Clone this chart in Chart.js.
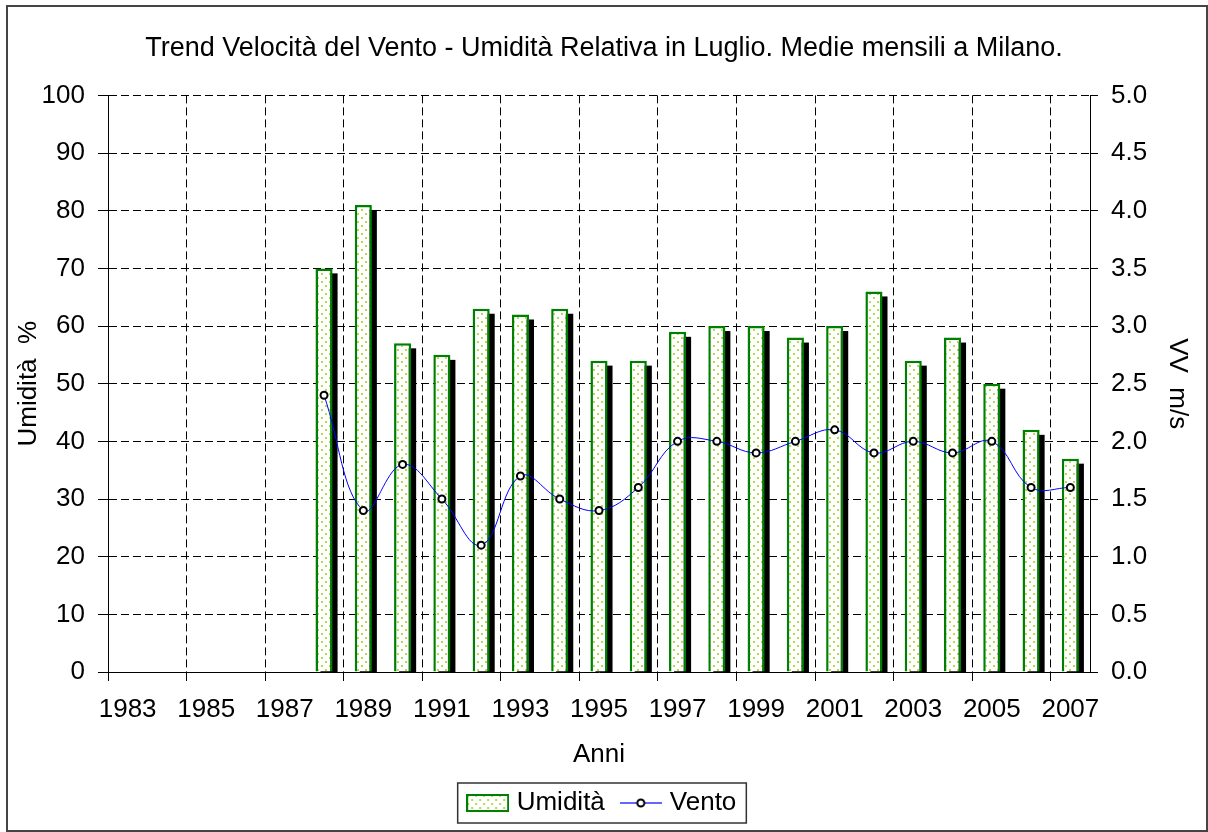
<!DOCTYPE html>
<html>
<head>
<meta charset="utf-8">
<script src="https://cdn.jsdelivr.net/npm/chart.js@4"></script>
<style>
  html, body { margin: 0; padding: 0; background: #fff; }
  #wrap { width: 1208px; height: 832px; position: relative; }
</style>
</head>
<body>
<div id="wrap"><canvas id="chart"></canvas></div>
<script>
const years = ["1983", "1984", "1985", "1986", "1987", "1988", "1989", "1990", "1991", "1992",
  "1993", "1994", "1995", "1996", "1997", "1998", "1999", "2000", "2001", "2002",
  "2003", "2004", "2005", "2006", "2007"];
const umidita = [null, null, null, null, null, 70, 81, 57, 55, 63,
  62, 63, 54, 54, 59, 60, 60, 58, 60, 66,
  54, 58, 50, 42, 37];
const vento = [null, null, null, null, null, 2.4, 1.4, 1.8, 1.5, 1.1,
  1.7, 1.5, 1.4, 1.6, 2.0, 2.0, 1.9, 2.0, 2.1, 1.9,
  2.0, 1.9, 2.0, 1.6, 1.6];

const titleText = "Trend Velocità del Vento - Umidità Relativa in Luglio. Medie mensili a Milano.";
const fontFamily = "'Liberation Sans', Arial, sans-serif";
Chart.defaults.font.family = fontFamily;
Chart.defaults.color = "#000";

const canvas = document.getElementById("chart");

// dotted fill like the excel pattern
function makeDots(ctx) {
  const tile = document.createElement("canvas");
  tile.width = 8;
  tile.height = 8;
  const g = tile.getContext("2d");
  g.fillStyle = "#ffffff";
  g.fillRect(0, 0, 8, 8);
  g.fillStyle = "#b4da4e";
  g.fillRect(1, 1, 2, 2);
  g.fillRect(5, 5, 2, 2);
  return ctx.createPattern(tile, "repeat");
}
const dots = makeDots(canvas.getContext("2d"));

function barIcon() {
  const c = document.createElement("canvas");
  c.width = 43;
  c.height = 18;
  const g = c.getContext("2d");
  g.fillStyle = makeDots(g);
  g.fillRect(0, 0, 43, 18);
  g.strokeStyle = "#008000";
  g.lineWidth = 2;
  g.strokeRect(1, 1, 41, 16);
  return c;
}
function lineIcon() {
  const c = document.createElement("canvas");
  c.width = 42;
  c.height = 14;
  const g = c.getContext("2d");
  g.strokeStyle = "#3333ff";
  g.lineWidth = 1.5;
  g.beginPath();
  g.moveTo(0, 7);
  g.lineTo(42, 7);
  g.stroke();
  g.beginPath();
  g.arc(21, 7, 3.5, 0, Math.PI * 2);
  g.fillStyle = "#fff";
  g.fill();
  g.strokeStyle = "#000";
  g.lineWidth = 2;
  g.stroke();
  return c;
}

const barShadow = {
  id: "barShadow",
  beforeDatasetDraw(chart, args) {
    if (args.meta.type !== "bar") return;
    const ctx = chart.ctx;
    const values = chart.data.datasets[args.index].data;
    const base = chart.scales.y.getPixelForValue(0);
    ctx.save();
    ctx.fillStyle = "#000";
    args.meta.data.forEach((bar, i) => {
      if (values[i] == null) return;
      const { x, y, width } = bar.getProps(["x", "y", "width"], true);
      ctx.fillRect(x - width / 2 + 5, y + 5, width, base - y - 5);
    });
    ctx.restore();
  },
};

const frame = {
  id: "frame",
  afterDraw(chart) {
    const ctx = chart.ctx;
    ctx.save();
    ctx.strokeStyle = "#444";
    ctx.lineWidth = 2;
    ctx.strokeRect(7, 6, 1200, 825);
    const boxes = chart.legend.legendHitBoxes;
    if (boxes && boxes.length) {
      const first = boxes[0];
      const last = boxes[boxes.length - 1];
      const left = first.left - 14;
      const right = last.left + last.width + 10;
      const cy = first.top + first.height / 2;
      ctx.strokeStyle = "#333";
      ctx.lineWidth = 1.5;
      ctx.strokeRect(left, cy - 20, right - left, 40);
    }
    ctx.restore();
  },
};

new Chart(canvas, {
  type: "bar",
  data: {
    labels: years,
    datasets: [
      {
        type: "line",
        label: "Vento",
        data: vento,
        yAxisID: "y1",
        borderColor: "#0000ff",
        borderWidth: 1,
        tension: 0.4,
        pointRadius: 3.5,
        pointBorderWidth: 2,
        pointBackgroundColor: "#fff",
        pointBorderColor: "#000",
        order: 0,
      },
      {
        type: "bar",
        label: "Umidità",
        data: umidita,
        yAxisID: "y",
        backgroundColor: dots,
        borderColor: "#008000",
        borderWidth: 2.5,
        borderSkipped: "bottom",
        categoryPercentage: 1,
        barPercentage: 0.435,
        order: 1,
      },
    ],
  },
  options: {
    responsive: true,
    maintainAspectRatio: false,
    animation: false,
    layout: { padding: { left: 8, right: 8, top: 0, bottom: 6 } },
    scales: {
      x: {
        offset: true,
        grid: {
          offset: true,
          color: (c) => (c.index % 2 === 0 ? "#000" : "rgba(0,0,0,0)"),
          tickLength: 9,
        },
        border: { display: true, color: "#000", dash: [8, 4] },
        ticks: {
          autoSkip: false,
          maxRotation: 0,
          padding: 16,
          font: { size: 26, lineHeight: 1 },
          callback: (v, i) => (i % 2 === 0 ? years[i] : ""),
        },
        title: {
          display: true,
          text: "Anni",
          font: { size: 26, lineHeight: 1 },
          padding: { top: 0, bottom: 2 },
        },
        afterFit: (s) => { s.height = 98; },
      },
      y: {
        position: "left",
        min: 0,
        max: 100,
        ticks: { stepSize: 10, padding: 13, font: { size: 26 } },
        grid: { color: "#000", tickLength: 10 },
        border: { display: true, color: "#000", dash: [8, 4] },
        title: {
          display: true,
          text: "Umidità  %",
          font: { size: 26, lineHeight: 1 },
          padding: { top: 8, bottom: 0 },
        },
        afterFit: (s) => { s.width = 100; },
      },
      y1: {
        position: "right",
        min: 0,
        max: 5,
        ticks: { stepSize: 0.5, padding: 13, font: { size: 26 }, callback: (v) => v.toFixed(1) },
        grid: { drawOnChartArea: false, color: "#000", tickLength: 8 },
        border: { display: true, color: "#000" },
        title: {
          display: true,
          text: "VV  m/s",
          font: { size: 26, lineHeight: 1 },
          padding: { top: 10, bottom: 0 },
        },
        afterFit: (s) => { s.width = 110; },
      },
    },
    plugins: {
      title: {
        display: true,
        text: titleText,
        color: "#000",
        font: { size: 27, weight: "normal", lineHeight: 1.2 },
        padding: { top: 32, bottom: 31 },
      },
      legend: {
        position: "bottom",
        labels: {
          usePointStyle: true,
          pointStyleWidth: 32,
          padding: 20,
          font: { size: 26 },
          color: "#000",
          generateLabels: () => [
            { text: "Umidità", pointStyle: barIcon(), datasetIndex: 1, lineWidth: 0, hidden: false },
            { text: "Vento", pointStyle: lineIcon(), datasetIndex: 0, lineWidth: 0, hidden: false },
          ],
        },
      },
      tooltip: { enabled: false },
    },
  },
  plugins: [barShadow, frame],
});
</script>
</body>
</html>
